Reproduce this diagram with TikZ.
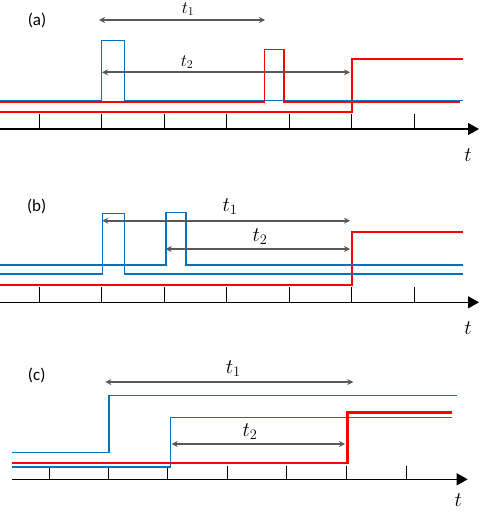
\documentclass[tikz,border=0pt]{standalone}
\usepackage{fontspec}
\setmainfont{Carlito}
\usetikzlibrary{arrows.meta}
\definecolor{sigblue}{HTML}{0070C0}
\definecolor{sigred}{HTML}{FF0000}
\definecolor{dimgray}{HTML}{595959}
\tikzset{
  axisline/.style={line width=1.3pt, black, -{Triangle[length=11pt,width=12pt]}},
  tickline/.style={line width=1pt, black},
  bluesig/.style={line width=1.5pt, sigblue},
  redsig/.style={line width=2pt, sigred},
  dimarrow/.style={line width=2.3pt, dimgray, {Stealth[length=6pt,width=6pt]}-{Stealth[length=6pt,width=6pt]}},
  panellabel/.style={font=\fontsize{17}{20}\selectfont, inner sep=0pt},
  tlabel/.style={font=\fontsize{20}{24}\selectfont, inner sep=0pt},
  smalltlabel/.style={font=\fontsize{17}{20}\selectfont, inner sep=0pt},
  axislabel/.style={font=\fontsize{22}{26}\selectfont, inner sep=0pt}
}
\begin{document}
\begin{tikzpicture}[x=1pt,y=-1pt]
\useasboundingbox[fill=white] (0,0) rectangle (480,512);

% ---------------- panel (a)
\node[panellabel] (la) at (37,20) {(a)};
\foreach \x in {39,101.5,164,226.5,289,351.5,414} \draw[tickline] (\x,114) -- (\x,129);
\draw[axisline] (0,129) -- (479,129);
\node[axislabel] (ta) at (468,155) {$t$};
\draw[redsig] (0,112.3) -- (351.7,112.3) -- (351.7,59.3) -- (463.3,59.3);
\draw[bluesig] (0,100.7) -- (101.7,100.7) -- (101.7,40.7) -- (124.3,40.7) -- (124.3,100.7) -- (462.7,100.7);
\draw[redsig, line width=1.6pt] (0,101.7) -- (264.3,101.7) -- (264.3,49.3) -- (284,49.3) -- (284,101.7) -- (460,101.7);
\coordinate (a1s) at (99,20); \coordinate (a1e) at (265,20);
\coordinate (a2s) at (102,72.3); \coordinate (a2e) at (350,72.3);
\draw[dimarrow] (a1s) -- (a1e);
\draw[dimarrow] (a2s) -- (a2e);
\node[smalltlabel] (ta1) at (188,9) {$t_1$};
\node[smalltlabel] (ta2) at (187,62) {$t_2$};

% ---------------- panel (b)
\node[panellabel] (lb) at (36.7,206.7) {(b)};
\foreach \x in {39,101.5,164,226.5,289,351.5,414} \draw[tickline] (\x,287.3) -- (\x,302.3);
\draw[axisline] (0,302.3) -- (479,302.3);
\node[axislabel] (tb) at (468,328) {$t$};
\draw[redsig] (0,285) -- (351.7,285) -- (351.7,232.3) -- (463.3,232.3);
\draw[bluesig] (0,274) -- (102.3,274) -- (102.3,213.7) -- (124.3,213.7) -- (124.3,274) -- (463.3,274);
\draw[bluesig] (0,265) -- (166,265) -- (166,212.3) -- (186,212.3) -- (186,265) -- (463.3,265);
\coordinate (b1s) at (102.3,220.7); \coordinate (b1e) at (350,220.7);
\coordinate (b2s) at (165.7,249); \coordinate (b2e) at (350,249);
\draw[dimarrow] (b1s) -- (b1e);
\draw[dimarrow] (b2s) -- (b2e);
\node[tlabel] (tb1) at (230,206.7) {$t_1$};
\node[tlabel] (tb2) at (260,236.7) {$t_2$};

% ---------------- panel (c)
\node[panellabel] (lc) at (36.7,375) {(c)};
\foreach \x in {49,108.3,167.3,227.3,286.7,346.7,406.3} \draw[tickline] (\x,465.7) -- (\x,479.3);
\draw[axisline] (12.3,479.3) -- (467.7,479.3);
\node[axislabel] (tc) at (458.3,500) {$t$};
\draw[bluesig] (12.3,452.3) -- (109,452.3) -- (109,395.7) -- (456.7,395.7);
\draw[bluesig] (12.3,467) -- (170.3,467) -- (170.3,417.3) -- (451.7,417.3);
\draw[redsig, line width=2.4pt] (12.3,463) -- (347.3,463) -- (347.3,412.3) -- (451.7,412.3);
\coordinate (c1s) at (105.3,382); \coordinate (c1e) at (353.3,382);
\coordinate (c2s) at (171.7,444); \coordinate (c2e) at (345,444);
\draw[dimarrow] (c1s) -- (c1e);
\draw[dimarrow] (c2s) -- (c2e);
\node[tlabel] (tc1) at (233.3,368.3) {$t_1$};
\node[tlabel] (tc2) at (250,431.7) {$t_2$};
\end{tikzpicture}
\end{document}
